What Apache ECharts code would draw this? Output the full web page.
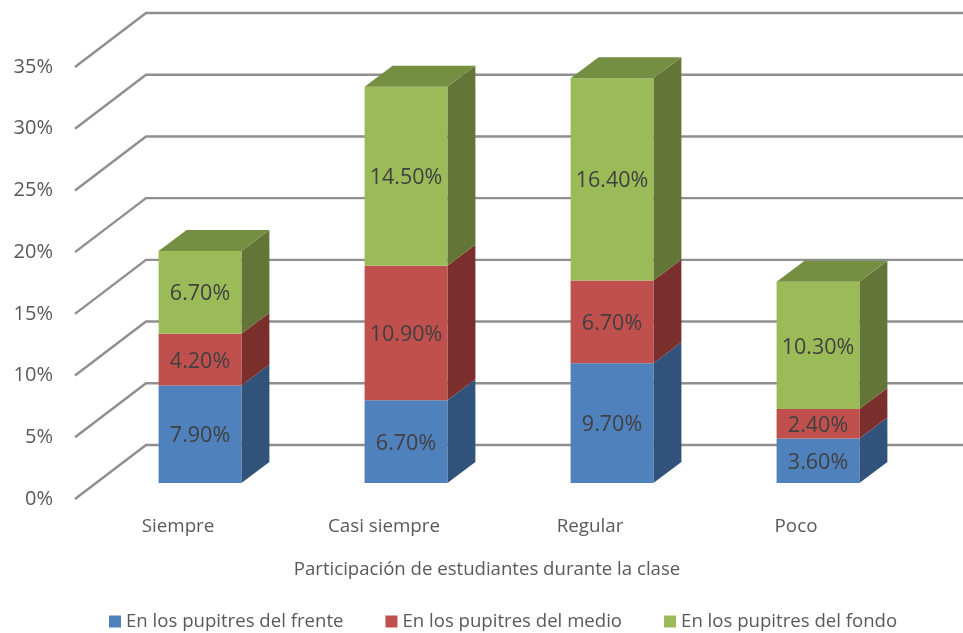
<!DOCTYPE html>
<html><head><meta charset="utf-8">
<style>html,body{margin:0;padding:0;background:#fff}#c{width:963px;height:633px}</style>
<script src="https://cdn.jsdelivr.net/npm/echarts@6/dist/echarts.min.js"></script>
</head><body><div id="c"></div>
<script>
const categories = ['Siempre', 'Casi siempre', 'Regular', 'Poco'];
const frente = [7.9, 6.7, 9.7, 3.6];
const medio = [4.2, 10.9, 6.7, 2.4];
const fondo = [6.7, 14.5, 16.4, 10.3];
const ticks = [0, 5, 10, 15, 20, 25, 30, 35];
const nameFrente = 'En los pupitres del frente';
const nameMedio = 'En los pupitres del medio';
const nameFondo = 'En los pupitres del fondo';
const axisTitle = 'Participación de estudiantes durante la clase';

const FONT = '"Open Sans", sans-serif';
const WALL_DX = 71, WALL_DY = 54, BAR_SHIFT_X = 22, BAR_SHIFT_Y = 16, DEPTH_X = 28, DEPTH_Y = 21, BAR_RATIO = 0.402, LABEL_SHIFT = 2;

function wallItem(params, api) {
  const cs = params.coordSys;
  const y = api.coord([0, api.value(0)])[1];
  const x0 = cs.x;
  const style = {stroke: '#8f8f8f', lineWidth: 2.4, fill: 'none'};
  return {type: 'polyline', silent: true,
    shape: {points: [[x0, y], [x0 + WALL_DX, y - WALL_DY], [x0 + cs.width + WALL_DX, y - WALL_DY]]},
    style: style};
}
const wallData = ticks.map(t => [t]);

function makeBars(name, values, base, colors, isTop) {
  const data = values.map((v, i) => [i, base[i], base[i] + v, v]);
  return {
    type: 'custom', name, z: 5, data, clip: false,
    itemStyle: {color: colors.front},
    encode: {x: 0, y: 2},
    renderItem(params, api) {
      const c0 = api.coord([api.value(0), api.value(1)]);
      const c1 = api.coord([api.value(0), api.value(2)]);
      const w = api.size([1, 0])[0] * BAR_RATIO;
      const cx = c0[0] + BAR_SHIFT_X;
      const l = cx - w / 2, r = cx + w / 2;
      const b = c0[1] - BAR_SHIFT_Y, t = c1[1] - BAR_SHIFT_Y;
      const children = [
        {type: 'polygon', shape: {points: [[r, b], [r + DEPTH_X, b - DEPTH_Y], [r + DEPTH_X, t - DEPTH_Y], [r, t]]},
          style: {fill: colors.side}},
        {type: 'rect', shape: {x: l, y: t, width: w, height: b - t}, style: {fill: colors.front}}
      ];
      if (isTop) {
        children.push({type: 'polygon', shape: {points: [[l, t], [l + DEPTH_X, t - DEPTH_Y], [r + DEPTH_X, t - DEPTH_Y], [r, t]]},
          style: {fill: colors.top}});
      }
      children.push({type: 'text', style: {
        x: cx, y: (t + b) / 2 + LABEL_SHIFT, text: api.value(3).toFixed(2) + '%', align: 'center', verticalAlign: 'middle',
        fill: '#404040', font: '21.5px ' + FONT}});
      return {type: 'group', children};
    }
  };
}
const zero = categories.map(() => 0);
const base2 = frente.slice();
const base3 = frente.map((v, i) => v + medio[i]);

const chart = echarts.init(document.getElementById('c'), null, {renderer: 'canvas'});
chart.setOption({
  animation: false,
  backgroundColor: '#fff',
  textStyle: {fontFamily: FONT},
  grid: {left: 75, top: 67, width: 824, height: 432, containLabel: false},
  xAxis: {
    type: 'category', data: categories,
    axisLine: {show: false}, axisTick: {show: false},
    axisLabel: {color: '#595959', fontSize: 18.8, fontFamily: FONT, margin: 18},
    name: axisTitle, nameLocation: 'middle', nameGap: 61,
    nameTextStyle: {color: '#595959', fontSize: 18.6, fontFamily: FONT}
  },
  yAxis: {
    type: 'value', min: 0, max: 35, interval: 5,
    axisLine: {show: false}, axisTick: {show: false}, splitLine: {show: false},
    axisLabel: {color: '#595959', fontSize: 20, fontFamily: FONT, margin: 22, formatter: '{value}%'}
  },
  legend: {
    left: 109, top: 612, padding: 0, itemWidth: 12, itemHeight: 12, itemGap: 42, icon: 'rect',
    data: [nameFrente, nameMedio, nameFondo],
    textStyle: {color: '#595959', fontSize: 18.6, fontFamily: FONT}
  },
  series: [
    {type: 'custom', name: 'walls', z: 1, data: wallData, clip: false, silent: true, encode: {y: 0}, renderItem: wallItem},
    makeBars(nameFrente, frente, zero, {front: '#4F81BD', side: '#31527A'}, false),
    makeBars(nameMedio, medio, base2, {front: '#C0504D', side: '#7B2F2D'}, false),
    makeBars(nameFondo, fondo, base3, {front: '#9BBB59', side: '#647637', top: '#758F42'}, true)
  ]
});
</script></body></html>
